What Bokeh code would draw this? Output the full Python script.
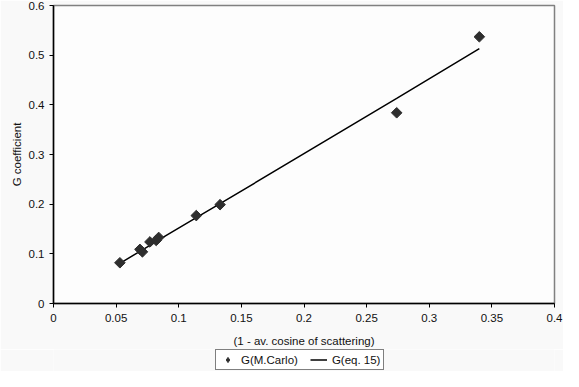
import math
from bokeh.plotting import figure
from bokeh.layouts import column
from bokeh.models import (FixedTicker, CustomJSTickFormatter, Legend, LegendItem,
                          ColumnDataSource, Range1d)
from bokeh.embed import file_html
from bokeh.resources import INLINE

# data
x_mc = [0.053, 0.069, 0.071, 0.077, 0.082, 0.084, 0.114, 0.133, 0.274, 0.340]
g_mc = [0.082, 0.109, 0.104, 0.124, 0.127, 0.133, 0.177, 0.199, 0.384, 0.537]
g_eq = [0.081, 0.105, 0.108, 0.117, 0.125, 0.128, 0.173, 0.201, 0.413, 0.513]
x_ticks = [0, 0.05, 0.1, 0.15, 0.2, 0.25, 0.3, 0.35, 0.4]
y_ticks = [0, 0.1, 0.2, 0.3, 0.4, 0.5, 0.6]
series_names = ["G(M.Carlo)", "G(eq. 15)"]

FONT = "Liberation Sans"
BG = "#f9f9f9"

p = figure(width=563, height=349, output_backend="svg", toolbar_location=None,
           x_range=Range1d(0, 0.4), y_range=Range1d(0, 0.6),
           min_border_left=53, min_border_right=9, min_border_top=5,
           min_border_bottom=45)
p.border_fill_color = BG
p.background_fill_color = "#fdfdfd"
p.outline_line_color = "#808080"
p.outline_line_width = 1.5
p.grid.visible = False

src = ColumnDataSource(dict(x=x_mc, g=g_mc, e=g_eq))
p.line("x", "e", source=src, line_color="black", line_width=1.5)
p.scatter("x", "g", source=src, marker="square", size=7.5, angle=math.pi / 4,
          fill_color="#2e2e2e", line_color="#2e2e2e")

fmt = CustomJSTickFormatter(code="return tick.toFixed(2).replace(/0+$/,'').replace(/\\.$/,'');")
for ax, ticks in ((p.xaxis, x_ticks), (p.yaxis, y_ticks)):
    ax.ticker = FixedTicker(ticks=ticks)
    ax.formatter = fmt
    ax.minor_tick_line_color = None
    ax.major_tick_in = 0
    ax.major_tick_out = 4
    ax.axis_line_color = "black"
    ax.axis_line_width = 1.5
    ax.major_tick_line_color = "black"
    ax.major_label_text_font = FONT
    ax.major_label_text_font_size = "11.5px"
    ax.major_label_text_color = "#111111"
    ax.axis_label_text_font = FONT
    ax.axis_label_text_font_size = "11.5px"
    ax.axis_label_text_font_style = "normal"
    ax.axis_label_text_color = "#111111"

p.xaxis.axis_label = "(1 - av. cosine of scattering)"
p.yaxis.axis_label = "G coefficient"
p.xaxis.major_label_standoff = 6
p.xaxis.axis_label_standoff = 10
p.yaxis.major_label_standoff = 5
p.yaxis.axis_label_standoff = 3

# legend strip below the chart (its frame is aligned with the chart's frame);
# the same series are drawn here but lie outside this strip's visible y range
pl = figure(width=563, height=22, output_backend="svg", toolbar_location=None,
            x_axis_type=None, y_axis_type=None, min_border=0,
            x_range=Range1d(0, 0.4), y_range=Range1d(5, 6))
pl.border_fill_color = BG
pl.background_fill_color = BG
pl.outline_line_color = None
pl.grid.visible = False
r_pts = pl.scatter("x", "g", source=src, marker="diamond", size=9,
                   fill_color="#2e2e2e", line_color="#2e2e2e")
r_line = pl.line("x", "e", source=src, line_color="black", line_width=1.5)

legend = Legend(items=[LegendItem(label=series_names[0], renderers=[r_pts]),
                       LegendItem(label=series_names[1], renderers=[r_line])],
                orientation="horizontal", location=(162, 1))
legend.border_line_color = "black"
legend.border_line_width = 1
legend.background_fill_color = "white"
legend.label_text_font = FONT
legend.label_text_font_size = "11.5px"
legend.label_text_color = "#111111"
legend.padding = 3
legend.spacing = 12
legend.margin = 0
legend.glyph_width = 17
legend.glyph_height = 13
legend.label_height = 13
legend.label_standoff = 5
pl.add_layout(legend, "center")

layout = column(p, pl, spacing=0)
open("out.html", "w").write(file_html(layout, INLINE))
